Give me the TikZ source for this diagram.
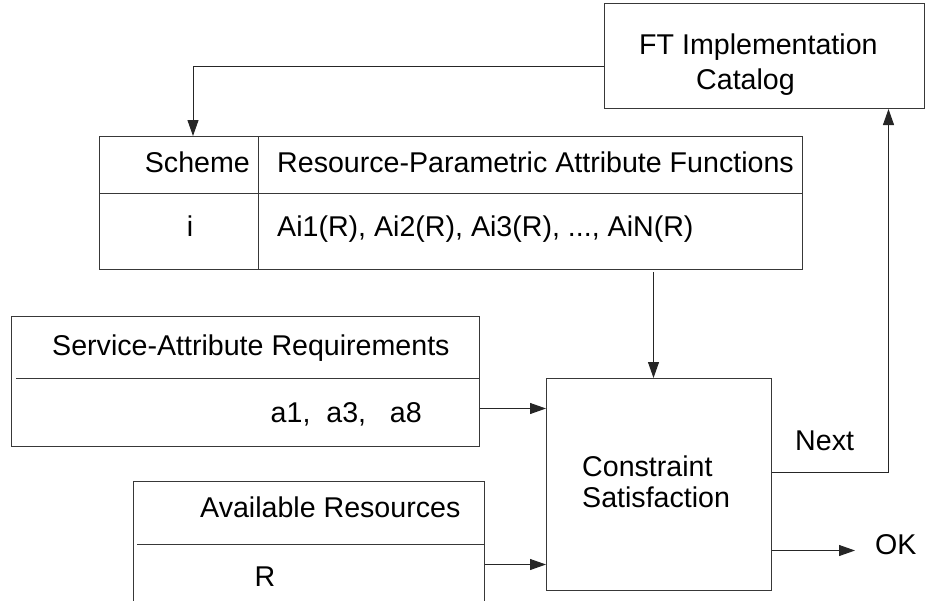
\documentclass[tikz,border=0pt]{standalone}
\usepackage{fontspec}
\setmainfont{Liberation Sans}
\usetikzlibrary{arrows.meta,calc}
\begin{document}
\begin{tikzpicture}[x=1pt,y=-1pt,
  box/.style={draw=black!78, line width=1pt, rectangle, inner sep=0pt, anchor=north west},
  lbl/.style={inner sep=0pt, font=\fontsize{28.6}{31}\selectfont},
  rule/.style={draw=black!78, line width=1pt},
  arr/.style={draw=black!85, line width=1pt, -{Triangle[length=16pt,width=11pt]}}]
\useasboundingbox (0,0) rectangle (929,600);
\clip (0,0) rectangle (929,600);

% implementation catalog
\node[box, minimum width=320pt, minimum height=105pt] (ft) at (604,3) {};
\node[lbl, anchor=base west] (ft1) at (639,54) {FT Implementation};
\node[lbl, anchor=base west] (ft2) at (696,89) {Catalog};

% scheme table
\node[box, minimum width=703pt, minimum height=133pt] (tbl) at (99,136) {};
\draw[rule] ($(tbl.north west)+(159,0)$) -- ($(tbl.south west)+(159,0)$);
\draw[rule] ($(tbl.north west)+(0,57)$) -- ($(tbl.north east)+(0,57)$);
\node[lbl, anchor=base east] (sch) at (250,172) {Scheme};
\node[lbl, anchor=base west] (rpa) at (277,172) {Resource-Parametric Attribute Functions};
\node[lbl, anchor=base] (idx) at (190,236) {i};
\node[lbl, anchor=base west] (fns) at (277,236) {Ai1(R), Ai2(R), Ai3(R), ..., AiN(R)};

% service-attribute requirements
\node[box, minimum width=468pt, minimum height=130pt] (sar) at (11,316) {};
\draw[rule] ($(sar.north west)+(5,62)$) -- ($(sar.north east)+(0,62)$);
\node[lbl, anchor=base west] (sarh) at (52,355) {Service-Attribute Requirements};
\node[lbl, anchor=base east] (sarv) at (422,422) {a1,\ \ a3,\ \ \ a8};

% available resources
\node[box, minimum width=351pt, minimum height=139pt] (ar) at (133,481) {};
\draw[rule] ($(ar.north west)+(4,63)$) -- ($(ar.north east)+(0,63)$);
\node[lbl, anchor=base west] (arh) at (200,517) {Available Resources};
\node[lbl, anchor=base] (arv) at (265,586) {R};

% constraint satisfaction
\node[box, minimum width=225pt, minimum height=212pt] (cs) at (546,378) {};
\node[lbl, anchor=base west] (cs1) at (582,476) {Constraint};
\node[lbl, anchor=base west] (cs2) at (582,507) {Satisfaction};

% outcome labels
\node[lbl, anchor=base west] (nxt) at (795,450) {Next};
\node[lbl, anchor=base west] (ok) at (875,554) {OK};

% connectors
\coordinate (fb) at ($(ft.west)+(0,10.5)$);
\draw[arr] (fb) -| ($(tbl.north west)+(94,0)$);

\coordinate (dn) at ($(tbl.south -| cs.north)+(-5.5,2)$);
\draw[arr] (dn) -- (dn |- cs.north);

\coordinate (sa) at ($(sar.east)+(0,27)$);
\draw[arr] (sa) -- (sa -| cs.west);

\coordinate (av) at ($(ar.east)+(0,13.5)$);
\draw[arr] (av) -- (av -| cs.west);

\draw[arr] ($(cs.east)+(0,-12)$) -| ($(ft.south)+(124,0)$);

\coordinate (okfrom) at ($(cs.east)+(0,66)$);
\draw[arr, shorten >=20pt] (okfrom) -- (okfrom -| ok.west);
\end{tikzpicture}
\end{document}
